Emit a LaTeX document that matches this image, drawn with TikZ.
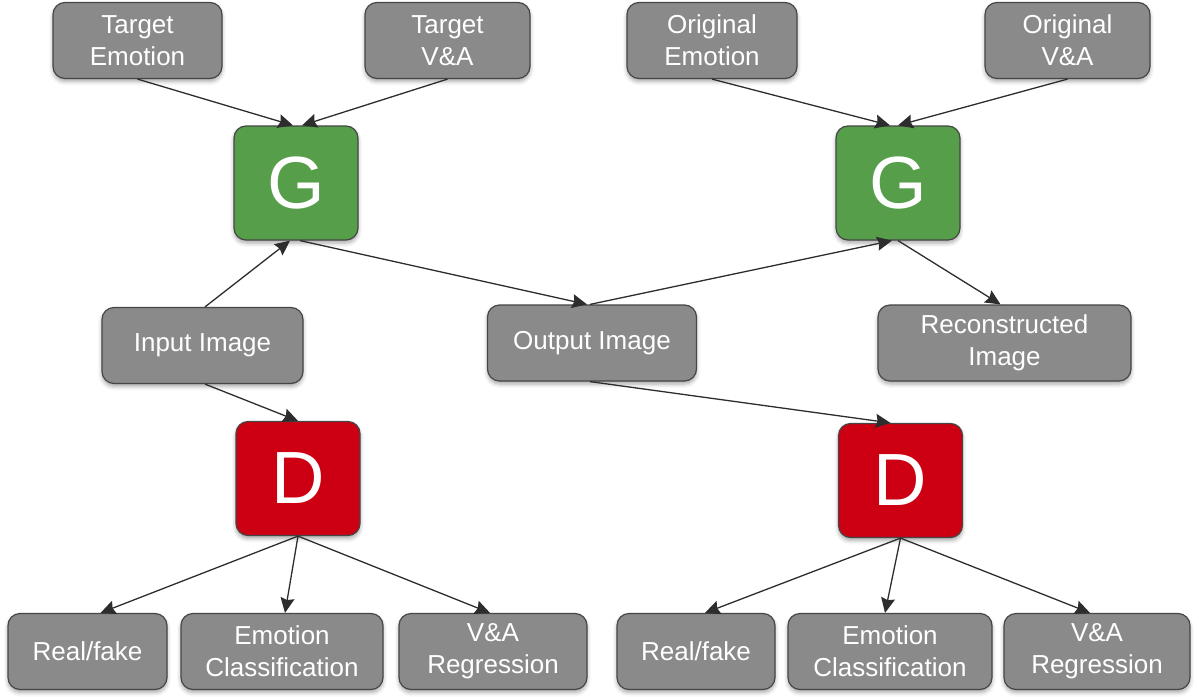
\documentclass[tikz,border=0pt]{standalone}
\usepackage{fontspec}
\setmainfont{Liberation Sans}
\usetikzlibrary{arrows.meta,calc,shadows.blur}
\definecolor{boxgray}{RGB}{138,138,138}
\definecolor{boxedge}{RGB}{70,70,70}
\definecolor{gengreen}{RGB}{86,158,74}
\definecolor{discred}{RGB}{204,0,18}
\definecolor{arrowcol}{RGB}{45,45,45}
\tikzset{
  base/.style={draw=boxedge, line width=1.2pt, rounded corners=12pt, text=white,
    align=center, inner sep=0pt,
    blur shadow={shadow xshift=0pt, shadow yshift=-3pt, shadow blur radius=4pt, shadow opacity=35}},
  infobox/.style={base, fill=boxgray, font=\fontsize{26}{32}\selectfont,
    minimum height=76pt},
  netbox/.style={base, font=\fontsize{74}{80}\selectfont,
    minimum width=124pt, minimum height=114pt},
  gen/.style={netbox, fill=gengreen},
  disc/.style={netbox, fill=discred},
  arr/.style={draw=arrowcol, line width=1.3pt,
    -{Stealth[length=15pt,width=14pt,inset=2pt]}}
}
\begin{document}
\begin{tikzpicture}[x=1pt,y=-1pt]
\useasboundingbox (0,0) rectangle (1199,696);

% conditioning inputs
\node[infobox, minimum width=169pt] (te)  at (137.5,40.5) {Target\\Emotion};
\node[infobox, minimum width=165pt] (tva) at (447.5,40.5) {Target\\V\&A};
\node[infobox, minimum width=170pt] (oe)  at (712,40.5)   {Original\\Emotion};
\node[infobox, minimum width=165pt] (ova) at (1067.5,40.5) {Original\\V\&A};

% generators
\node[gen] (gl) at (296,183) {G};
\node[gen] (gr) at (898,183) {G};

% images
\node[infobox, minimum width=201pt] (in)  at (202.5,345.5) {Input Image};
\node[infobox, minimum width=209pt] (out) at (592,343)     {Output Image};
\node[infobox, minimum width=253pt] (rec) at (1004.5,343)  {Reconstructed\\Image};

% discriminators
\node[disc] (dl) at (298,478.5) {D};
\node[disc] (dr) at (900.5,480.5) {D};

% discriminator outputs
\node[infobox, minimum width=159pt] (rf1) at (87.5,651.5) {Real/fake};
\node[infobox, minimum width=202pt] (ec1) at (282,651.5)  {Emotion\\Classification};
\node[infobox, minimum width=188pt] (va1) at (493,651.5)  {V\&A\\Regression};
\node[infobox, minimum width=158pt] (rf2) at (696,651.5)  {Real/fake};
\node[infobox, minimum width=204pt] (ec2) at (890,651.5)  {Emotion\\Classification};
\node[infobox, minimum width=186pt] (va2) at (1097,651.5) {V\&A\\Regression};

% generator connections
\draw[arr] (te.south) -- ($(gl.north)+(-3,0)$);
\draw[arr] (tva.south) -- ($(gl.north)+(6,0)$);
\draw[arr] ($(in.north)+(2.5,0)$) -- ($(gl.south)+(-6,0)$);
\draw[arr] ($(gl.south)+(4,0)$) -- ($(out.north)+(-5,0)$);
\draw[arr] ($(out.north)+(-2,0)$) -- ($(gr.south)+(-6,0)$);
\draw[arr] ($(gr.south)+(0,0)$) -- ($(rec.north)+(-4,0)$);
\draw[arr] (oe.south) -- ($(gr.north)+(-8,0)$);
\draw[arr] (ova.south) -- ($(gr.north)+(0,0)$);

% discriminator connections
\draw[arr] ($(in.south)+(2.5,0)$) -- (dl.north);
\draw[arr] ($(out.south)+(-2,0)$) -- ($(dr.north)+(-10,0)$);
\draw[arr] (dl.south) -- ($(rf1.north)+(13,0)$);
\draw[arr] (dl.south) -- ($(ec1.north)+(3,0)$);
\draw[arr] (dl.south) -- ($(va1.north)+(-3,0)$);
\draw[arr] (dr.south) -- ($(rf2.north)+(9,0)$);
\draw[arr] (dr.south) -- ($(ec2.north)+(-5,0)$);
\draw[arr] (dr.south) -- ($(va2.north)+(-7,0)$);
\end{tikzpicture}
\end{document}
